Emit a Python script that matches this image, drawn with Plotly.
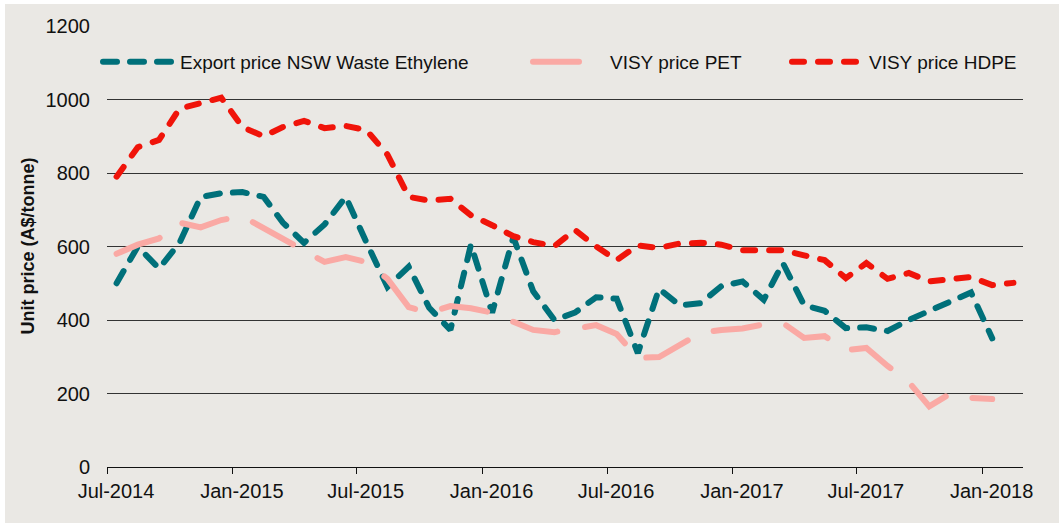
import plotly.graph_objects as go

# Monthly observations, Jul-2014 .. Feb-2018 (plotted mid-month)
start_year, start_month, n_months = 2014, 7, 44
dates = []
for i in range(n_months):
    m = start_month - 1 + i
    dates.append(f"{start_year + m // 12}-{m % 12 + 1:02d}-15")

export_ethylene = [500, 600, 540, 610, 735, 745, 748, 735, 665, 610, 660, 735,
                   612, 490, 545, 433, 373, 605, 420, 625, 478, 400, 420, 462,
                   458, 310, 485, 440, 446, 492, 505, 455, 555, 440, 425, 378,
                   380, 370, 400, 425, 450, 475, 350, None]
visy_pet = [580, 605, 622, 665, 652, 672, 682, 650, 620, 592, 558, 571,
            558, 512, 435, 420, 438, 432, 420, 395, 373, 367, 378, 386,
            362, 297, 299, 333, 365, 373, 377, 388, 392, 351, 356, 318,
            324, 275, 231, 165, 200, 188, 185, None]
visy_hdpe = [790, 870, 890, 975, 990, 1005, 925, 900, 925, 942, 922, 928,
             917, 850, 735, 725, 730, 685, 658, 628, 612, 601, 645, 600,
             563, 603, 596, 608, 610, 605, 590, 588, 590, 576, 563, 514,
             555, 512, 528, 505, 510, 517, 495, 501]

tick_vals = ["2014-07-01", "2015-01-01", "2015-07-01", "2016-01-01",
             "2016-07-01", "2017-01-01", "2017-07-01", "2018-01-01"]
tick_text = ["Jul-2014", "Jan-2015", "Jul-2015", "Jan-2016",
             "Jul-2016", "Jan-2017", "Jul-2017", "Jan-2018"]
y_ticks = [0, 200, 400, 600, 800, 1000, 1200]

FONT = "Liberation Sans, Arial, sans-serif"
BG = "#EAE8E4"
TEAL = "#00707A"
PINK = "#FAA9A4"
RED = "#F0140A"
LW = 6

fig = go.Figure()
fig.add_trace(go.Scatter(x=dates, y=export_ethylene, mode="lines",
                         name="Export price NSW Waste Ethylene",
                         line=dict(color=TEAL, width=LW, dash="14px,13px"),
                         legend="legend", showlegend=True))
fig.add_trace(go.Scatter(x=dates, y=visy_pet, mode="lines",
                         name="VISY price PET",
                         line=dict(color=PINK, width=LW, dash="46px,28px"),
                         legend="legend2", showlegend=True))
fig.add_trace(go.Scatter(x=dates, y=visy_hdpe, mode="lines",
                         name="VISY price HDPE",
                         line=dict(color=RED, width=LW, dash="12px,14px"),
                         legend="legend3", showlegend=True))

# page offset of the figure (body margin) and page-pixel plot frame
OX, OY = 5, 4
FIG_W, FIG_H = 1059 - OX, 523 - OY
plot_l, plot_r, plot_t, plot_b = 107, 1023, 26, 467
pw, ph = plot_r - plot_l, plot_b - plot_t

def px_x(p):
    return (p - plot_l) / pw

def px_y(p):
    return (plot_b - p) / ph

leg_common = dict(orientation="h", yanchor="middle", xanchor="left",
                  bgcolor="rgba(0,0,0,0)", borderwidth=0, itemwidth=72,
                  font=dict(family=FONT, size=19, color="#111"),
                  itemclick=False, itemdoubleclick=False)

fig.update_layout(
    width=FIG_W, height=FIG_H,
    showlegend=True,
    paper_bgcolor=BG, plot_bgcolor=BG,
    margin=dict(l=plot_l - OX, r=FIG_W - (plot_r - OX), t=plot_t - OY,
                b=FIG_H - (plot_b - OY), pad=0, autoexpand=False),
    font=dict(family=FONT, size=20, color="#111"),
    legend=dict(x=px_x(98), y=px_y(62), **leg_common),
    legend2=dict(x=px_x(528), y=px_y(62), **leg_common),
    legend3=dict(x=px_x(787), y=px_y(62), **leg_common),
    xaxis=dict(type="date", range=["2014-07-01", "2018-03-01"],
               tickmode="array", tickvals=tick_vals, ticktext=tick_text,
               ticks="outside", ticklen=6, tickwidth=1, tickcolor="#111",
               showline=True, linecolor="#111", linewidth=1.3,
               showgrid=False, zeroline=False, ticklabelshift=9,
               tickfont=dict(family=FONT, size=20, color="#111")),
    yaxis=dict(range=[0, 1200], tickmode="array", tickvals=y_ticks,
               showgrid=True, gridcolor="#333", gridwidth=1.3,
               zeroline=False, showline=False, ticks="",
               ticklabelstandoff=16,
               tickfont=dict(family=FONT, size=20, color="#111")),
    annotations=[dict(text="<b>Unit price (A$/tonne)</b>", textangle=-90,
                      xref="paper", yref="paper", x=px_x(27), y=0.5,
                      xanchor="center", yanchor="middle", showarrow=False,
                      font=dict(family=FONT, size=18, color="#111"))],
)

post = """
document.body.style.margin = '%dpx 0 0 %dpx';
document.body.style.overflow = 'hidden';
document.querySelectorAll('path.js-line').forEach(function(p){
  p.style.strokeLinecap = 'round';
});
""" % (OY, OX)
fig.write_html("out.html", post_script=post)
